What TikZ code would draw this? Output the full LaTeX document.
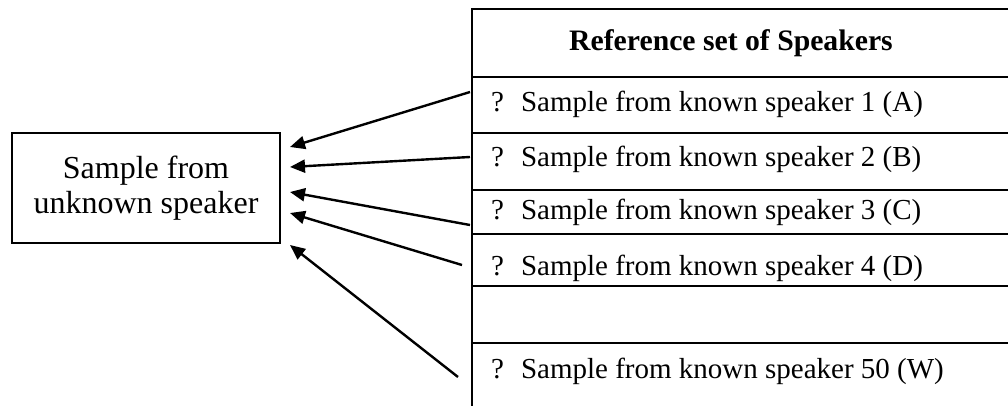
\documentclass[tikz,border=0pt]{standalone}
\usepackage{fontspec}
\setmainfont{Liberation Serif}
\usetikzlibrary{arrows.meta}
\begin{document}
\begin{tikzpicture}[x=1pt,y=-1pt,
  tbl/.style={draw, line width=2.8pt},
  rowtext/.style={anchor=west, inner sep=0pt, font=\fontsize{29}{34}\selectfont},
  unkbox/.style={draw, line width=2.7pt, minimum width=268pt, minimum height=110pt, align=center, font=\fontsize{32}{35}\selectfont},
  conn/.style={line width=2.4pt, -{Triangle[length=15pt,width=13pt]}}]
\useasboundingbox (0,0) rectangle (1008,405);
% left box
\node[unkbox] (unk) at (146,188) {Sample from\\unknown speaker};
% table
\draw[tbl] (472,9) rectangle (1030,77);
\draw[tbl] (472,77) rectangle (1030,133);
\draw[tbl] (472,133) rectangle (1030,190);
\draw[tbl] (472,190) rectangle (1030,234);
\draw[tbl] (472,234) rectangle (1030,286);
\draw[tbl] (472,286) rectangle (1030,343);
\draw[tbl] (472,343) rectangle (1030,430);
\node[font=\bfseries\fontsize{29.7}{34}\selectfont, inner sep=0pt] (head) at (731,43) {Reference set of Speakers};
\node[rowtext] (r1) at (491,104) {?\hspace{17pt}Sample from known speaker 1 (A)};
\node[rowtext] (r2) at (491,159) {?\hspace{17pt}Sample from known speaker 2 (B)};
\node[rowtext] (r3) at (491,212) {?\hspace{17pt}Sample from known speaker 3 (C)};
\node[rowtext] (r4) at (491,268) {?\hspace{17pt}Sample from known speaker 4 (D)};
\node[rowtext] (r50) at (491,371) {?\hspace{17pt}Sample from known speaker 50 (W)};
% arrow ends
\coordinate (s1) at (470,92);
\coordinate (s2) at (470,157);
\coordinate (s3) at (470,225);
\coordinate (s4) at (462,265);
\coordinate (s5) at (458,377);
\coordinate (t1) at (290,147);
\coordinate (t2) at (290,167);
\coordinate (t3) at (290,192);
\coordinate (t4) at (290,213);
\coordinate (t5) at (290,245);
\draw[conn] (s1) -- (t1);
\draw[conn] (s2) -- (t2);
\draw[conn] (s3) -- (t3);
\draw[conn] (s4) -- (t4);
\draw[conn] (s5) -- (t5);
\end{tikzpicture}
\end{document}
